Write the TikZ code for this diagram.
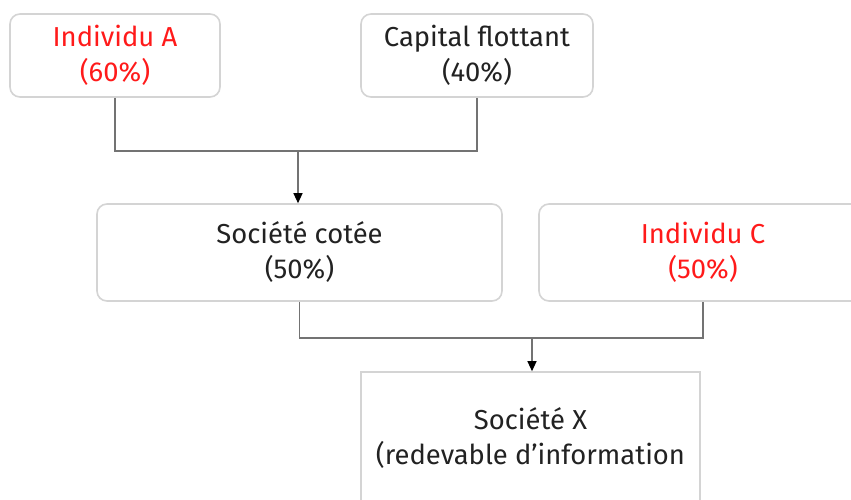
\documentclass[tikz,border=0pt]{standalone}
\usepackage{fontspec}
\setmainfont{Fira Sans}
\usetikzlibrary{arrows.meta}
\definecolor{boxgray}{HTML}{D4D4D4}
\definecolor{textred}{HTML}{FF1A1A}
\definecolor{textdark}{HTML}{222222}
\begin{document}
\begin{tikzpicture}[x=0.5pt,y=-0.5pt,
  owner/.style={draw=boxgray,line width=0.8pt,rounded corners=5pt,fill=white,
    align=center,inner sep=0pt,minimum height=41.5pt,text=textdark,
    font=\fontsize{13.7}{17.5}\selectfont},
  target/.style={owner,rounded corners=0pt},
  link/.style={draw=black!55,line width=0.6pt},
  tip/.style={link,-{Triangle[width=4.5pt,length=5pt,color=black,fill=black]}}]
  \useasboundingbox (0,0) rectangle (851,499);
  \begin{scope}
  \clip (0,0) rectangle (851,499);
  % first level
  \node[owner,minimum width=105pt,text=textred] (indA) at (115,55.5) {Individu A\\(60\%)};
  \node[owner,minimum width=116pt] (capfl) at (477,55.5) {Capital flottant\\(40\%)};
  % second level
  \node[owner,minimum width=202.5pt,minimum height=48.5pt] (cotee) at (299.5,252.5) {Société cotée\\(50\%)};
  \node[owner,minimum width=164pt,minimum height=48.5pt,text=textred] (indC) at (703,252.5) {Individu C\\(50\%)};
  % bottom
  \node[target,minimum width=169.5pt,minimum height=66pt] (socX) at (530.5,438) {Société X\\(redevable d’information};
  % connectors
  \coordinate (j1) at (298,151);
  \coordinate (j2) at (532,338);
  \draw[link] (indA.south) |- (j1) -| (capfl.south);
  \draw[tip] (j1) -- (j1 |- cotee.north);
  \draw[link] (cotee.south) |- (j2) -| (indC.south);
  \draw[tip] (j2) -- (j2 |- socX.north);
  \end{scope}
\end{tikzpicture}
\end{document}
